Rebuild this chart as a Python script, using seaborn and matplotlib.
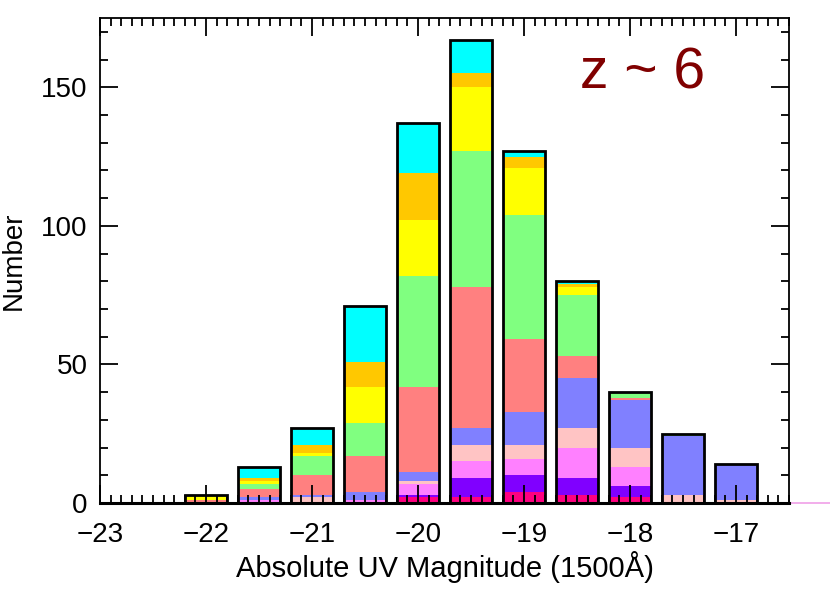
import numpy as np
import pandas as pd
import matplotlib
matplotlib.use("Agg")
import matplotlib.pyplot as plt
import seaborn as sns
from matplotlib.ticker import MultipleLocator

# bin centres (absolute UV magnitude)
mags = [-22.0, -21.5, -21.0, -20.5, -20.0, -19.5, -19.0, -18.5, -18.0, -17.5, -17.0]

# counts of each sub-sample per bin, bottom of stack first
deeppink = [0, 0, 0, 0, 2, 2, 4, 3, 2, 0, 0]
purple = [0, 0, 0, 0, 1, 7, 6, 6, 4, 0, 0]
magenta = [0, 1, 0, 1, 4, 6, 6, 11, 7, 0, 0]
lightpink = [0, 0, 2, 0, 1, 6, 5, 7, 7, 3, 1]
blue = [0, 1, 1, 3, 3, 6, 12, 18, 17, 21, 13]
salmon = [1, 3, 7, 13, 31, 51, 26, 8, 1, 0, 0]
green = [0, 2, 7, 12, 40, 49, 45, 22, 2, 1, 0]
yellow = [2, 1, 1, 13, 20, 23, 17, 3, 0, 0, 0]
orange = [0, 1, 3, 9, 17, 5, 4, 1, 0, 0, 0]
cyan = [0, 4, 6, 20, 18, 12, 2, 1, 0, 0, 0]

components = {
    "deeppink": (deeppink, "#ff0080"),
    "purple": (purple, "#8000ff"),
    "magenta": (magenta, "#ff80ff"),
    "lightpink": (lightpink, "#ffc4c4"),
    "blue": (blue, "#8080ff"),
    "salmon": (salmon, "#ff8080"),
    "green": (green, "#80ff80"),
    "yellow": (yellow, "#ffff00"),
    "orange": (orange, "#ffc800"),
    "cyan": (cyan, "#00ffff"),
}

# stray pink segment at the lower right, outside the frame
pink_x = [-16.5, -16.1]
pink_y = [0, 0]

rows = []
for name, (vals, col) in components.items():
    for m, v in zip(mags, vals):
        rows.append({"mag": m, "count": v, "comp": name})
df = pd.DataFrame(rows)
totals = df.groupby("mag", as_index=False)["count"].sum()

sns.set_style("white")
plt.rcParams["font.family"] = ["Liberation Sans", "DejaVu Sans"]
plt.rcParams["text.color"] = "black"
plt.rcParams["axes.labelcolor"] = "black"
plt.rcParams["xtick.color"] = "black"
plt.rcParams["ytick.color"] = "black"

fig = plt.figure(figsize=(8.3, 5.93), dpi=100)
ax = fig.add_axes([0.1205, 0.1518, 0.8301, 0.8178])

order = list(components.keys())[::-1]  # seaborn puts the first hue level on top
palette = {k: c for k, (v, c) in components.items()}

sns.histplot(data=df, x="mag", weights="count", hue="comp", hue_order=order,
             multiple="stack", binwidth=0.5, binrange=(-22.25, -16.75),
             shrink=0.8, palette=palette, alpha=1, linewidth=0,
             legend=False, ax=ax)
sns.histplot(data=totals, x="mag", weights="count", binwidth=0.5,
             binrange=(-22.25, -16.75), shrink=0.8, fill=False,
             element="bars", color="black", linewidth=2, ax=ax)

ax.plot(pink_x, pink_y, color="#f0a0e8", lw=1.2, clip_on=False)

ax.set_xlim(-23, -16.5)
ax.set_ylim(0, 175)
ax.xaxis.set_major_locator(MultipleLocator(1))
ax.xaxis.set_minor_locator(MultipleLocator(0.1))
ax.yaxis.set_major_locator(MultipleLocator(50))
ax.yaxis.set_minor_locator(MultipleLocator(10))
ax.tick_params(which="both", direction="in", bottom=True, left=True,
               top=True, right=True, color="black", labelcolor="black",
               labelsize=20)
ax.tick_params(which="major", length=13, width=1.3)
ax.tick_params(which="minor", length=6, width=1.3)
ax.tick_params(axis="x", pad=14)
ax.tick_params(axis="y", pad=9)
ax.set_axisbelow(False)
for side, sp in ax.spines.items():
    sp.set_visible(True)
    sp.set_color("black")
    sp.set_linewidth(1.3)
ax.spines["bottom"].set_linewidth(2.2)

ax.set_xlabel("Absolute UV Magnitude (1500Å)", fontsize=21, labelpad=2,
              color="black")
ax.set_ylabel("Number", fontsize=20, labelpad=10, color="black")
ax.text(-17.88, 155, "z ~ 6", color="#800000", fontsize=41,
        ha="center", va="center")

fig.savefig("out.png", dpi=100)
